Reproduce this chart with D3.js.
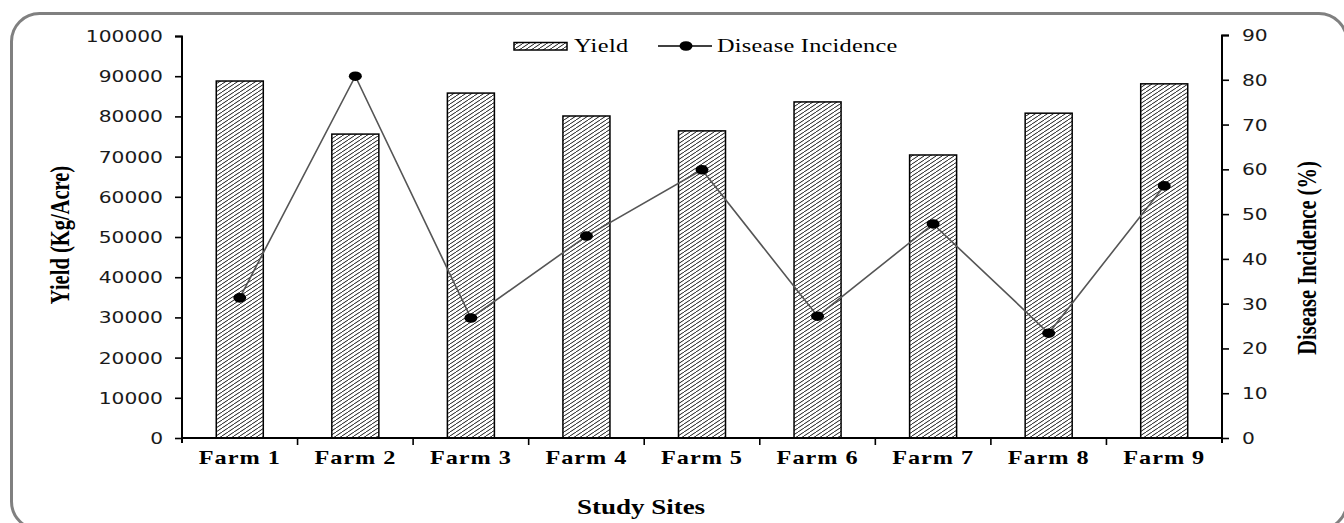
<!DOCTYPE html>
<html><head><meta charset="utf-8">
<script src="https://cdn.jsdelivr.net/npm/d3@7/dist/d3.min.js"></script>
<style>html,body{margin:0;padding:0;background:#fff;}svg{display:block;}</style>
</head><body>
<svg id="c" width="1344" height="523"></svg>
<script>
const categories = ["Farm 1","Farm 2","Farm 3","Farm 4","Farm 5","Farm 6","Farm 7","Farm 8","Farm 9"];
const yieldValues = [88800, 75600, 85800, 80100, 76400, 83600, 70400, 80800, 88100];
const diseaseValues = [31.3, 80.8, 26.8, 45.1, 59.9, 27.2, 47.8, 23.4, 56.3];
const leftTicks = [0,10000,20000,30000,40000,50000,60000,70000,80000,90000,100000];
const rightTicks = [0,10,20,30,40,50,60,70,80,90];

const SX = 1.35; // horizontal stretch of the original picture
const svg = d3.select("#c");

// border
svg.append("rect").attr("x",11.5).attr("y",13.5).attr("width",1335.5).attr("height",516)
  .attr("rx",28).attr("fill","none").attr("stroke","#808080").attr("stroke-width",3);

// hatch pattern
const defs = svg.append("defs");
const pat = defs.append("pattern").attr("id","hatch").attr("patternUnits","userSpaceOnUse")
  .attr("width",6).attr("height",4);
pat.append("rect").attr("width",6).attr("height",4).attr("fill","#fff");
pat.append("path").attr("d","M0,4 L6,0 M-6,4 L0,0 M6,4 L12,0").attr("stroke","#000").attr("stroke-width",0.9);

const L = 182, R = 1222, B = 438;
const x = d3.scaleBand().domain(categories).range([L,R]).paddingInner(0.593).paddingOuter(0.2965);
const yL = d3.scaleLinear().domain([0,100000]).range([B,36]);
const yR = d3.scaleLinear().domain([0,90]).range([B,35]);

// bars
svg.append("g").selectAll("rect").data(categories).join("rect")
  .attr("x",d=>x(d)).attr("width",x.bandwidth())
  .attr("y",(d,i)=>yL(yieldValues[i])).attr("height",(d,i)=>B-yL(yieldValues[i]))
  .attr("fill","url(#hatch)").attr("stroke","#000").attr("stroke-width",1.5);

function stext(g, txt, tx, ty, opts){
  const t = g.append("text").attr("transform",`translate(${tx},${ty}) scale(${SX},1)` + (opts.rot?` rotate(${opts.rot})`:""))
    .text(txt).attr("font-family",opts.family).attr("font-size",opts.size)
    .attr("font-weight",opts.weight||"normal").attr("fill",opts.fill||"#000")
    .attr("text-anchor",opts.anchor||"middle");
  if(opts.ls) t.attr("letter-spacing",opts.ls);
  return t;
}

const axL = d3.axisLeft(yL).tickValues(leftTicks).tickSize(7).tickFormat(d3.format("d"));
const gL = svg.append("g").attr("transform",`translate(${L},0)`).call(axL);
gL.select(".domain").attr("d",`M-7,36.5H0V${B+5}`).attr("stroke","#000").attr("stroke-width",2);
gL.selectAll(".tick line").attr("stroke","#000").attr("stroke-width",1.6);
gL.selectAll(".tick text").remove();
gL.selectAll(".tick").each(function(d){
  stext(d3.select(this), d3.format("d")(d), -19, 5.5, {family:"DejaVu Sans", size:15, anchor:"end", fill:"#1a1a1a"});
});

const axR = d3.axisRight(yR).tickValues(rightTicks).tickSize(7);
const gR = svg.append("g").attr("transform",`translate(${R},0)`).call(axR);
gR.select(".domain").attr("d",`M7,35.5H0V${B+5}`).attr("stroke","#000").attr("stroke-width",2);
gR.selectAll(".tick line").attr("stroke","#000").attr("stroke-width",1.6);
gR.selectAll(".tick text").remove();
gR.selectAll(".tick").each(function(d){
  stext(d3.select(this), String(d), 20, 5.5, {family:"DejaVu Sans", size:15, anchor:"start", fill:"#1a1a1a"});
});

// bottom axis
const gB = svg.append("g");
gB.append("line").attr("x1",L-1).attr("x2",R+1).attr("y1",B).attr("y2",B).attr("stroke","#000").attr("stroke-width",2);
const step = x.step();
const boundaries = d3.range(1,categories.length).map(i=>L+i*step);
gB.selectAll("line.tk").data(boundaries).join("line").attr("class","tk")
  .attr("x1",d=>d).attr("x2",d=>d).attr("y1",B).attr("y2",B+7).attr("stroke","#000").attr("stroke-width",1.6);
categories.forEach(c=>{
  stext(gB, c, x(c)+x.bandwidth()/2, 464, {family:"Liberation Serif", size:18, weight:"bold", ls:0.7});
});

// line series
const pts = categories.map((c,i)=>[x(c)+x.bandwidth()/2, yR(diseaseValues[i])]);
svg.append("path").attr("d",d3.line()(pts)).attr("fill","none").attr("stroke","#555").attr("stroke-width",1.6);
svg.append("g").selectAll("ellipse").data(pts).join("ellipse")
  .attr("cx",d=>d[0]).attr("cy",d=>d[1]).attr("rx",6.5).attr("ry",4.8).attr("fill","#000");

// axis titles
stext(svg, "Study Sites", 641, 514, {family:"Liberation Serif", size:20, weight:"bold"});
stext(svg, "Yield (Kg/Acre)", 69, 235, {family:"Liberation Serif", size:20.5, weight:"bold", rot:-90});
stext(svg, "Disease Incidence (%)", 1316, 258, {family:"Liberation Serif", size:20.5, weight:"bold", rot:-90});

// legend
const lg = svg.append("g");
lg.append("rect").attr("x",514).attr("y",42.5).attr("width",53).attr("height",7.5)
  .attr("fill","url(#hatch)").attr("stroke","#000").attr("stroke-width",1.5);
stext(lg, "Yield", 574, 52, {family:"Liberation Serif", size:18, anchor:"start", ls:0.3});
lg.append("line").attr("x1",658).attr("x2",712).attr("y1",46).attr("y2",46).attr("stroke","#000").attr("stroke-width",1.6);
lg.append("ellipse").attr("cx",686).attr("cy",46).attr("rx",6.5).attr("ry",4.8).attr("fill","#000");
stext(lg, "Disease Incidence", 717, 52, {family:"Liberation Serif", size:18, anchor:"start", ls:0.2});
</script>
</body></html>
